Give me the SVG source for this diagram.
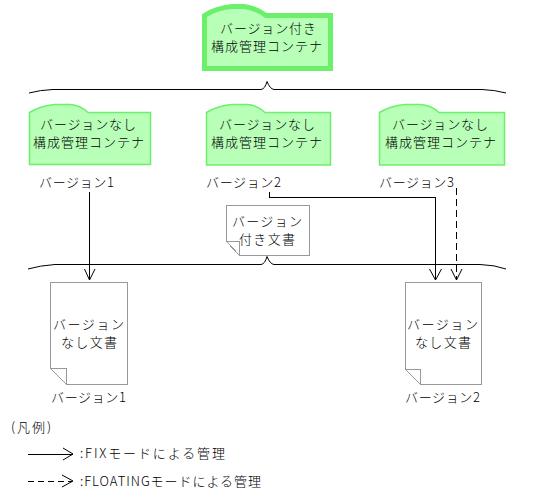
<svg xmlns="http://www.w3.org/2000/svg" width="557" height="501" viewBox="0 0 557 501">
<style>
text{font-family:"Noto Sans CJK JP","Liberation Sans",sans-serif;font-size:13px;font-weight:300;fill:#000}
.folder{fill:#b8ffb8;stroke:#6cf06c;stroke-width:1.500}
.big{stroke-width:5}
.doc{fill:#fff;stroke:#999;stroke-width:1;shape-rendering:crispEdges}
.ln{fill:none;stroke:#000;stroke-width:1;shape-rendering:crispEdges}
.br{fill:none;stroke:#000;stroke-width:1}
</style>
<g id="versioned-container">
<path class="folder big" d="M204.500 15.500 Q216 8 232 6.500 H244 Q256 8 266 15.500 H330.500 V68.500 H204.500 Z"/>
<text x="220" y="33" textLength="96" lengthAdjust="spacing">バージョン付き</text>
<text x="211" y="51" textLength="111" lengthAdjust="spacing">構成管理コンテナ</text>
</g>
<g id="brace-top"><path class="br" d="M29 93 Q40 90 53 89.500 H261 Q265 89 267 81.500 Q270 89 274 89.500 H482 Q495 90 506 93"/></g>
<g id="container-1">
<path class="folder" d="M29.500 112.500 Q40 106 55 104.500 H70 Q80 105 88 112.500 H150.500 V164.500 H29.500 Z"/>
<text x="40" y="129" textLength="96" lengthAdjust="spacing">バージョンなし</text>
<text x="33" y="147" textLength="111" lengthAdjust="spacing">構成管理コンテナ</text>
<text x="39" y="187" textLength="75" lengthAdjust="spacing">バージョン1</text>
</g>
<g id="container-2">
<path class="folder" d="M206.500 112.500 Q217 106 232 104.500 H247 Q257 105 265 112.500 H330.500 V165 H206.500 Z"/>
<text x="219" y="129" textLength="96" lengthAdjust="spacing">バージョンなし</text>
<text x="211" y="147" textLength="111" lengthAdjust="spacing">構成管理コンテナ</text>
<text x="206" y="187" textLength="75" lengthAdjust="spacing">バージョン2</text>
</g>
<g id="container-3">
<path class="folder" d="M379.500 112.500 Q390 106 405 104.500 H420 Q431 105 439 112.500 H504.500 V165 H379.500 Z"/>
<text x="392" y="129" textLength="96" lengthAdjust="spacing">バージョンなし</text>
<text x="385" y="147" textLength="111" lengthAdjust="spacing">構成管理コンテナ</text>
<text x="379" y="187" textLength="75" lengthAdjust="spacing">バージョン3</text>
</g>
<g id="versioned-doc">
<path class="doc" d="M226.500 205.500 H309.500 V255.500 H239.500 L226.500 241.500 Z M226.500 241.500 H239.500 V255.500"/>
<text x="232" y="226" textLength="70" lengthAdjust="spacing">バージョン</text>
<text x="239" y="244" textLength="56" lengthAdjust="spacing">付き文書</text>
</g>
<g id="brace-bottom"><path class="br" d="M28 269 Q40 265.500 55 264.500 H261 Q265 264 267 256.500 Q270 264 274 264.500 H480 Q495 265 506 269"/></g>
<g id="doc-1">
<path class="doc" d="M50.500 282.500 H127.500 V384.500 H66.500 L50.500 368.500 Z M50.500 368.500 H66.500 V384.500"/>
<text x="53" y="329" textLength="71" lengthAdjust="spacing">バージョン</text>
<text x="61" y="347" textLength="56" lengthAdjust="spacing">なし文書</text>
<text x="51" y="402" textLength="75" lengthAdjust="spacing">バージョン1</text>
</g>
<g id="doc-2">
<path class="doc" d="M405.500 282.500 H481.500 V384.500 H420.500 L405.500 369.500 Z M405.500 369.500 H420.500 V384.500"/>
<text x="407" y="329" textLength="71" lengthAdjust="spacing">バージョン</text>
<text x="415" y="347" textLength="56" lengthAdjust="spacing">なし文書</text>
<text x="405" y="402" textLength="75" lengthAdjust="spacing">バージョン2</text>
</g>
<g id="connectors">
<path class="ln" d="M89.500 192 V280"/>
<path class="br" d="M84.500 269 L89.500 280 L95 269"/>
<path class="ln" d="M269.500 192 V197.500 H435.500 V280"/>
<path class="br" d="M429.500 269 L435.500 280 L441.500 269"/>
<path class="ln" stroke-dasharray="7 4" d="M456.500 188 V280"/>
<path class="br" d="M451 269 L456.500 280 L462 269"/>
</g>
<g id="legend">
<text x="11" y="432" textLength="40" lengthAdjust="spacing">(凡例)</text>
<path class="ln" d="M28 454.500 H73"/>
<path class="br" d="M63 448 L73 454 L63 460"/>
<text x="80" y="458" textLength="145" lengthAdjust="spacing">:FIXモードによる管理</text>
<path class="ln" stroke-dasharray="6 4" d="M28 481.500 H72"/>
<path class="br" d="M62 475 L73 481 L62 487"/>
<text x="80" y="486" textLength="181" lengthAdjust="spacing">:FLOATINGモードによる管理</text>
</g>
</svg>
